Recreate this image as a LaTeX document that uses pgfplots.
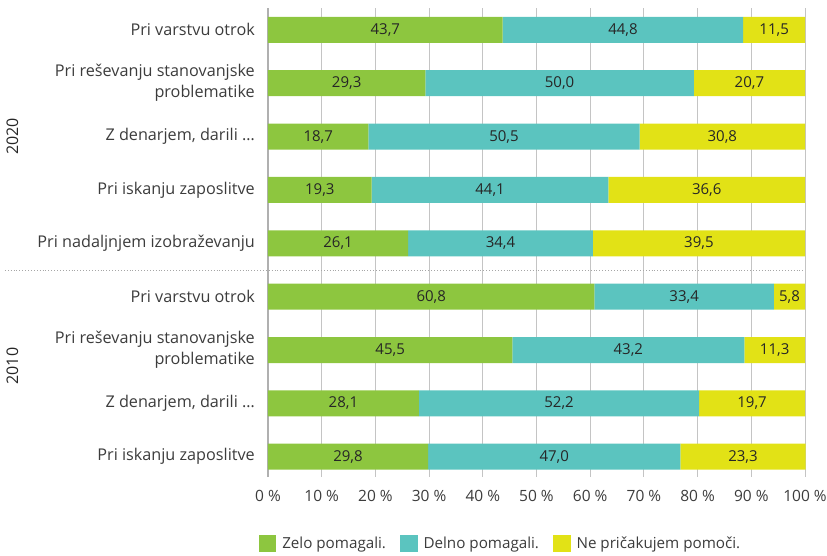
\documentclass[border=0pt]{standalone}
\usepackage{pgfplots}
\pgfplotsset{compat=1.18}
\usepackage{fontspec}
\setmainfont{Open Sans}
\definecolor{zelo}{HTML}{8DC63F}
\definecolor{delno}{HTML}{5BC4BF}
\definecolor{nepri}{HTML}{E2E216}
\definecolor{txt}{HTML}{3C3C3C}
\definecolor{gridc}{HTML}{C4C4C4}

\begin{document}
\begin{tikzpicture}
\begin{axis}[
    xbar stacked,
    scale only axis,
    width=537pt, height=469pt,
    bar width=26pt,
    xmin=0, xmax=100,
    ymin=-0.41, ymax=8.38,
    y dir=reverse,
    clip=false,
    axis line style={draw=none},
    major tick length=0pt,
    /pgf/number format/assume math mode=true,
    xtick={0,10,...,100},
    xticklabel={\pgfmathprintnumber{\tick}\ \%},
    xticklabel style={inner sep=0pt, anchor=north, yshift=-13pt, text=txt, font=\fontsize{15.5}{18}\selectfont},
    ytick={0,...,8},
    yticklabels={Pri varstvu otrok,
        {Pri reševanju stanovanjske\\problematike},
        {Z denarjem, darili …},
        Pri iskanju zaposlitve,
        Pri nadaljnjem izobraževanju,
        Pri varstvu otrok,
        {Pri reševanju stanovanjske\\problematike},
        {Z denarjem, darili …},
        Pri iskanju zaposlitve},
    yticklabel style={align=right, inner sep=0pt, anchor=east, xshift=-13pt, text=txt, font=\fontsize{16.2}{21}\selectfont},
    xmajorgrids,
    grid style={gridc, line width=0.9pt},
    visualization depends on={\thisrowno{0} \as \segval},
    nodes near coords={\pgfmathprintnumber[use comma,fixed,fixed zerofill,precision=1,assume math mode=true]{\segval}},
    every node near coord/.append style={anchor=center, text=black!85, font=\fontsize{15}{17}\selectfont},
    legend columns=3,
    legend style={at={(0.5,0)}, anchor=center, xshift=-36pt, yshift=-66pt, draw=none, text=txt,
        inner sep=0pt,
        /tikz/every odd column/.append style={column sep=4pt},
        /tikz/every even column/.append style={column sep=12pt},
        font=\fontsize{15.2}{18}\selectfont},
    legend cell align=left,
    legend image code/.code={\fill[#1] (0pt,-8.5pt) rectangle (17.5pt,8.5pt);},
]
\addplot[fill=zelo, draw=none] table {
v c
43.7 0
29.3 1
18.7 2
19.3 3
26.1 4
60.8 5
45.5 6
28.1 7
29.8 8
};
\addlegendentry{Zelo pomagali.}
\addplot[fill=delno, draw=none] table {
v c
44.8 0
50.0 1
50.5 2
44.1 3
34.4 4
33.4 5
43.2 6
52.2 7
47.0 8
};
\addlegendentry{Delno pomagali.}
\addplot[fill=nepri, draw=none] table {
v c
11.5 0
20.7 1
30.8 2
36.6 3
39.5 4
5.8 5
11.3 6
19.7 7
23.3 8
};
\addlegendentry{Ne pričakujem pomoči.}

% left axis line and group separator
\draw[gridc!90!black, line width=1.4pt] (rel axis cs:0,0) -- (rel axis cs:0,1);
\draw[gray!70, dotted, line width=0.9pt] (axis cs:-49,4.5) -- (axis cs:100,4.5);
\node[rotate=90, text=black!85, font=\fontsize{16}{18}\selectfont] at (axis cs:-47.6,2) {2020};
\node[rotate=90, text=black!85, font=\fontsize{16}{18}\selectfont] at (axis cs:-47.6,6.3) {2010};
\coordinate (bl) at (rel axis cs:0,0);
\end{axis}
\pgfresetboundingbox
\path (bl) ++(-268pt,-79pt) rectangle ++(827pt,556pt);
\end{tikzpicture}
\end{document}
